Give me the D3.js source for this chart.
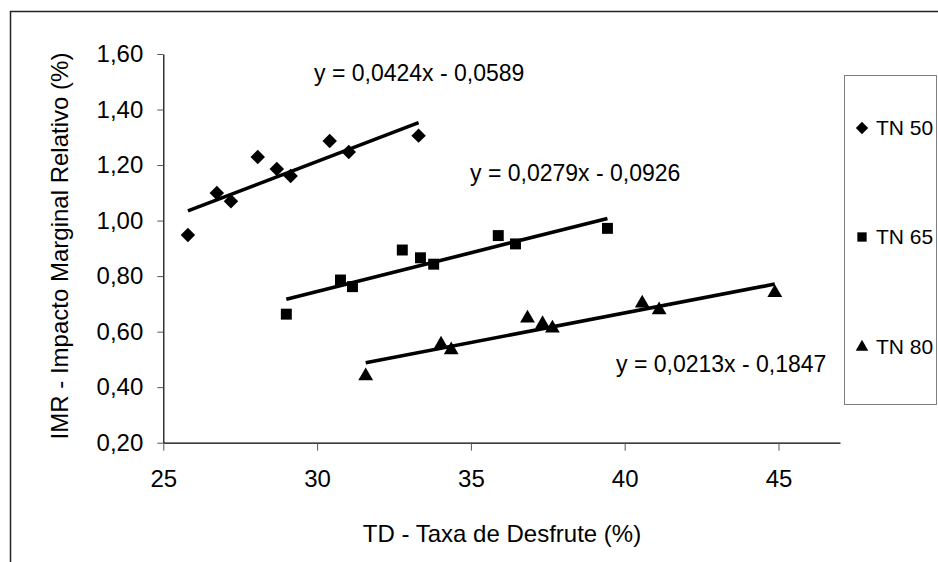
<!DOCTYPE html>
<html lang="pt">
<head>
<meta charset="UTF-8">
<title>IMR x TD</title>
<style>
    body { margin: 0; background: #fff; }
    svg { display: block; }
    text { font-family: "Liberation Sans", Arial, sans-serif; fill: #000; }
</style>
</head>
<body>
<script src="https://cdnjs.cloudflare.com/ajax/libs/d3/7.8.5/d3.min.js"></script>
<script>
    // data
    let seriesNames = ["TN 50", "TN 65", "TN 80"]
    let tn50 = [[25.80, 0.948], [26.74, 1.099], [27.20, 1.070], [28.07, 1.229], [28.69, 1.186],
                [29.14, 1.161], [30.41, 1.287], [31.03, 1.247], [33.30, 1.306]]
    let tn65 = [[29.00, 0.663], [30.76, 0.786], [31.15, 0.762], [32.77, 0.894], [33.36, 0.866],
                [33.79, 0.843], [35.89, 0.946], [36.45, 0.916], [39.44, 0.972]]
    let tn80 = [[31.58, 0.440], [34.03, 0.554], [34.36, 0.534], [36.84, 0.648], [37.33, 0.628],
                [37.65, 0.612], [40.57, 0.702], [41.12, 0.678], [44.88, 0.740]]
    let slopes = [0.0424, 0.0279, 0.0213]
    let intercepts = [-0.0589, -0.0926, -0.1847]
    let xTicks = [25, 30, 35, 40, 45]
    let yTicks = [0.2, 0.4, 0.6, 0.8, 1.0, 1.2, 1.4, 1.6]

    let width = 938, height = 562
    let font = 24

    let svg = d3.select("body").append("svg")
        .attr("width", width)
        .attr("height", height)

    // outer frame, cut off at right and bottom like the original
    svg.append("rect")
        .attr("x", 10.5).attr("y", 11.5)
        .attr("width", 1000).attr("height", 1000)
        .attr("fill", "none")
        .attr("stroke", "#222")
        .attr("stroke-width", 1.5)

    let x = d3.scaleLinear().domain([25, 47]).range([163.3, 840])
    let y = d3.scaleLinear().domain([0.2, 1.6]).range([442.7, 54])

    let comma = d => d3.format(".2f")(d).replace(".", ",")

    let gy = svg.append("g")
        .attr("transform", "translate(163.3,0)")
        .call(d3.axisLeft(y).tickValues(yTicks).tickFormat(comma).tickSize(6).tickSizeOuter(0).tickPadding(14))
    let gx = svg.append("g")
        .attr("transform", "translate(0,442.7)")
        .call(d3.axisBottom(x).tickValues(xTicks).tickFormat(d3.format("d")).tickSize(8).tickSizeOuter(0).tickPadding(19))

    for (let g of [gx, gy]) {
        g.select(".domain").attr("stroke", "#000").attr("stroke-width", 1.2)
        g.selectAll(".tick line").attr("stroke", "#555").attr("stroke-width", 1)
        g.selectAll(".tick text")
            .attr("font-size", font)
            .attr("font-family", "Liberation Sans, Arial, sans-serif")
            .attr("fill", "#000")
    }

    svg.append("text")
        .attr("x", 502).attr("y", 542)
        .attr("text-anchor", "middle")
        .attr("font-size", font)
        .text("TD - Taxa de Desfrute (%)")

    svg.append("text")
        .attr("transform", "translate(68,246) rotate(-90)")
        .attr("text-anchor", "middle")
        .attr("font-size", font)
        .text("IMR - Impacto Marginal Relativo (%)")

    let series = [tn50, tn65, tn80]
    let symbols = [
        d3.symbol().type(d3.symbolSquare).size(105),
        d3.symbol().type(d3.symbolSquare).size(120),
        d3.symbol().type(d3.symbolTriangle).size(95)
    ]
    let rot = [45, 0, 0]

    // trend lines over each series' x range
    let line = d3.line().x(d => x(d[0])).y(d => y(d[1]))
    series.forEach((s, i) => {
        let ext = d3.extent(s, d => d[0])
        let pts = ext.map(v => [v, slopes[i] * v + intercepts[i]])
        svg.append("path")
            .attr("d", line(pts))
            .attr("fill", "none")
            .attr("stroke", "#000")
            .attr("stroke-width", 3.6)
    })

    series.forEach((s, i) => {
        svg.append("g").selectAll("path")
            .data(s)
            .enter()
            .append("path")
                .attr("d", symbols[i])
                .attr("transform", d => `translate(${x(d[0])},${y(d[1])}) rotate(${rot[i]})`)
                .attr("fill", "#000")
    })

    // equations
    let fmt4 = v => d3.format(".4f")(v).replace(".", ",")
    let eqPos = [[314, 81], [470, 181], [616, 372]]
    slopes.forEach((m, i) => {
        svg.append("text")
            .attr("x", eqPos[i][0]).attr("y", eqPos[i][1])
            .attr("font-size", 23)
            .text(`y = ${fmt4(m)}x - ${fmt4(-intercepts[i])}`)
    })

    // legend
    let legend = svg.append("g")
    legend.append("rect")
        .attr("x", 844.5).attr("y", 75.5)
        .attr("width", 92).attr("height", 329)
        .attr("fill", "#fff")
        .attr("stroke", "#808080")
        .attr("stroke-width", 1)
    let legY = [128, 237, 347]
    seriesNames.forEach((n, i) => {
        legend.append("path")
            .attr("d", symbols[i])
            .attr("transform", `translate(862,${legY[i]}) rotate(${rot[i]}) scale(0.85)`)
            .attr("fill", "#000")
        legend.append("text")
            .attr("x", 876).attr("y", legY[i])
            .attr("dy", "0.35em")
            .attr("font-size", 21)
            .text(n)
    })
</script>
</body>
</html>
